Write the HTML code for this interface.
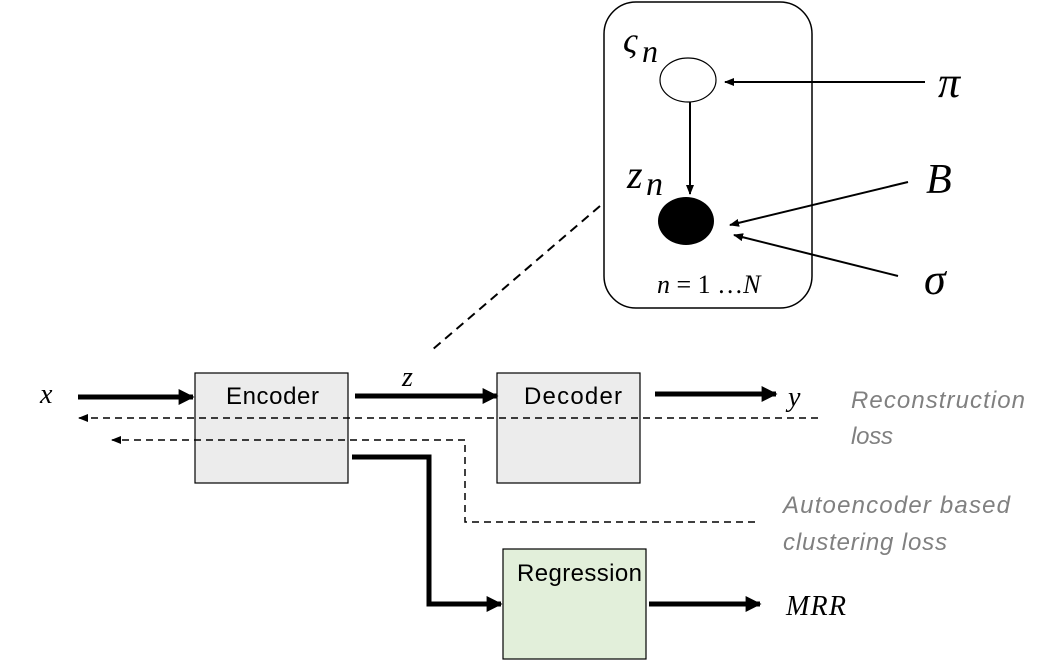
<!DOCTYPE html>
<html><head><style>body{margin:0;background:#fff}svg{display:block}</style></head><body>
<svg width="1059" height="672" viewBox="0 0 1059 672" xmlns="http://www.w3.org/2000/svg">
<defs>
<marker id="ah" viewBox="0 0 10 10" refX="9" refY="5" markerWidth="16" markerHeight="16" markerUnits="userSpaceOnUse" orient="auto"><path d="M0,0 L10,5 L0,10z" fill="#000"/></marker>
<marker id="sm" viewBox="0 0 10 10" refX="9" refY="5" markerWidth="10" markerHeight="10" markerUnits="userSpaceOnUse" orient="auto"><path d="M0,1 L10,5 L0,9z" fill="#000"/></marker>
</defs>
<g font-family="Liberation Serif, serif" font-style="italic">
<rect x="604" y="2" width="208" height="306" rx="32" fill="none" stroke="#000" stroke-width="1.5"/>
<ellipse cx="688" cy="80" rx="28" ry="22" fill="#fff" stroke="#000" stroke-width="1.2"/>
<ellipse cx="686" cy="221" rx="28" ry="24" fill="#000"/>
<line x1="690" y1="102" x2="690" y2="194" stroke="#000" stroke-width="2" marker-end="url(#sm)"/>
<line x1="925" y1="82" x2="725" y2="82" stroke="#000" stroke-width="2" marker-end="url(#sm)"/>
<line x1="908" y1="182" x2="730" y2="225" stroke="#000" stroke-width="2" marker-end="url(#sm)"/>
<line x1="898" y1="276" x2="734" y2="235" stroke="#000" stroke-width="2" marker-end="url(#sm)"/>
<text x="623" y="52" font-size="36">ς</text><text x="642" y="62" font-size="32">n</text>
<text x="627" y="188" font-size="40">z</text><text x="646" y="195" font-size="34">n</text>
<text x="938" y="97" font-size="44">π</text>
<text x="926" y="193" font-size="42">B</text>
<text x="924" y="294" font-size="44">σ</text>
<text x="657" y="293" font-size="26">n <tspan font-style="normal">= 1 …</tspan>N</text>
<line x1="600" y1="206" x2="432" y2="350" stroke="#000" stroke-width="2" stroke-dasharray="9,6"/>
<text x="40" y="403" font-size="28">x</text>
<text x="402" y="386" font-size="28">z</text>
<text x="788" y="406" font-size="28">y</text>
<text x="786" y="615" font-size="28" textLength="60">MRR</text>
</g>
<rect x="195" y="373" width="153" height="110" fill="#ececec" stroke="#000" stroke-width="1.2"/>
<rect x="497" y="373" width="143" height="110" fill="#ececec" stroke="#000" stroke-width="1.2"/>
<rect x="503" y="549" width="143" height="110" fill="#e2efda" stroke="#000" stroke-width="1.2"/>
<g font-family="Liberation Sans, sans-serif" font-size="24">
<text x="226" y="404" textLength="93">Encoder</text>
<text x="524" y="404" textLength="98">Decoder</text>
<text x="517" y="581" textLength="125">Regression</text>
</g>
<g stroke="#000" stroke-width="5" fill="none">
<line x1="78" y1="397" x2="193" y2="397" marker-end="url(#ah)"/>
<line x1="355" y1="396" x2="497" y2="396" marker-end="url(#ah)"/>
<line x1="655" y1="394" x2="776" y2="394" marker-end="url(#ah)"/>
<line x1="649" y1="604" x2="760" y2="604" marker-end="url(#ah)"/>
<polyline points="352,457 429,457 429,604 501,604" marker-end="url(#ah)"/>
</g>
<g stroke="#000" stroke-width="1.5" fill="none" stroke-dasharray="7,5">
<line x1="818" y1="418" x2="79" y2="418" marker-end="url(#sm)"/>
<polyline points="755,522 465,522 465,440 112,440" marker-end="url(#sm)"/>
</g>
<g font-family="Liberation Sans, sans-serif" font-style="italic" font-size="24" fill="#808080">
<text x="851" y="408" textLength="174">Reconstruction</text>
<text x="851" y="444" textLength="42">loss</text>
<text x="783" y="513" textLength="227">Autoencoder based</text>
<text x="783" y="550" textLength="164">clustering loss</text>
</g>
</svg>
</body></html>
